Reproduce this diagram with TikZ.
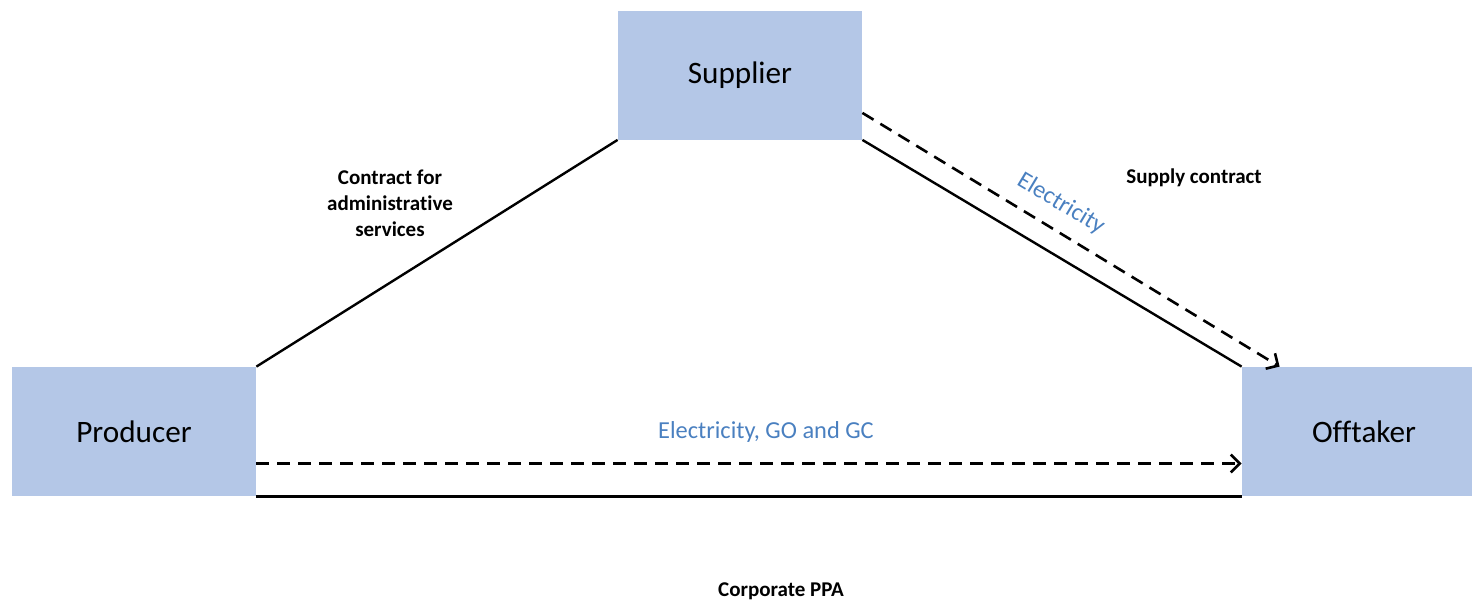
\documentclass[tikz,border=0pt]{standalone}
\usepackage{fontspec}
\setmainfont{Carlito}[Ligatures=NoCommon]
\usetikzlibrary{arrows.meta, positioning}

\definecolor{boxblue}{HTML}{B4C7E7}
\definecolor{flowblue}{HTML}{4A80C0}

\begin{document}
\begin{tikzpicture}[x=0.5pt, y=-0.5pt,
    party/.style={fill=boxblue, minimum width=122pt, minimum height=64.5pt, font=\fontsize{15.6}{18}\selectfont},
    contract/.style={line width=1.2pt},
    flow/.style={line width=1.3pt, dash pattern=on 6.5pt off 4pt, -{Straight Barb[length=4.5pt,width=9pt,line width=1.3pt]}},
    lbl/.style={font=\fontsize{10.5}{13}\selectfont\bfseries, align=center},
    flowlbl/.style={font=\fontsize{12.2}{14}\selectfont, text=flowblue}]

\useasboundingbox (0,0) rectangle (1472,601);

% Parties
\node[party] (prod) at (134,431.5) {Producer};
\node[party] (sup) at (740,75) {Supplier};
\node[party] (off) at (1364,431.5) {Offtaker};

% Contracts
\draw[contract] (prod.north east) -- (sup.south west);
\draw[contract] (sup.south east) -- (off.north west);
\draw[contract] (prod.south east) -- (off.south west);

% Electricity flows
\draw[flow] ([yshift=13.5pt]sup.south east) -- ([xshift=19pt]off.north west);
\draw[flow] ([yshift=-16pt]prod.east) -- ([yshift=-16pt]off.west);

% Labels
\node[lbl] (admin) at (390,203) {Contract for\\administrative\\services};
\node[lbl] (supply) at (1194,178) {Supply contract};
\node[lbl] (ppa) at (781,591) {Corporate PPA};
\node[flowlbl, rotate=-31] (elec) at (1061,204) {Electricity};
\node[flowlbl] (elecgo) at (766,432) {Electricity, GO and GC};

\end{tikzpicture}
\end{document}
